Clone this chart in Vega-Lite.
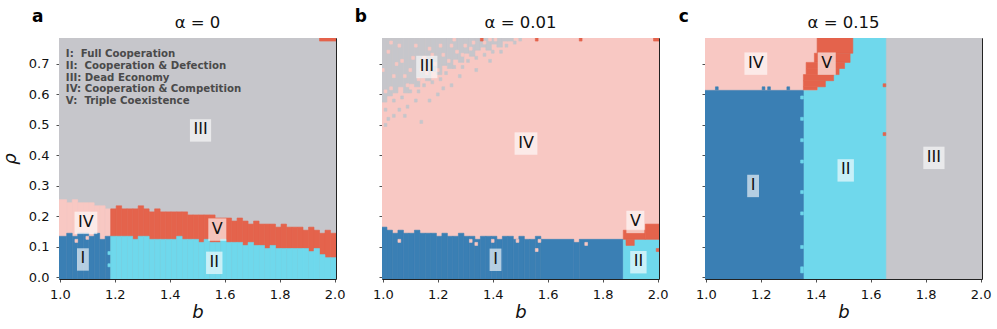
{
  "$schema": "https://vega.github.io/schema/vega-lite/v6.json",
  "padding": {"left": 0, "top": 7, "right": 5, "bottom": 5},
  "background": "white",
  "spacing": 46,
  "bounds": "flush",
  "config": {
    "view": {"stroke": "#222", "strokeWidth": 1},
    "axis": {"domain": false, "grid": false, "tickColor": "#222", "tickSize": 3, "tickWidth": 0.8, "labelFont": "DejaVu Sans", "labelFontSize": 13, "labelColor": "#111", "labelPadding": 7, "labelOverlap": false, "labelFlush": false, "titleFont": "DejaVu Sans", "titleFontSize": 18, "titleFontStyle": "italic", "titleFontWeight": "normal", "titleColor": "#111"},
    "axisX": {"labelPadding": 6.5, "titlePadding": 2},
    "axisY": {"titlePadding": 9}
  },
  "datasets": {
    "labels": [
      {"p": "a", "b": 1.095, "r": 0.179, "t": "IV"},
      {"p": "a", "b": 1.084, "r": 0.059, "t": "I"},
      {"p": "a", "b": 1.512, "r": 0.482, "t": "III"},
      {"p": "a", "b": 1.573, "r": 0.157, "t": "V"},
      {"p": "a", "b": 1.562, "r": 0.048, "t": "II"},
      {"p": "b", "b": 1.16, "r": 0.69, "t": "III"},
      {"p": "b", "b": 1.521, "r": 0.439, "t": "IV"},
      {"p": "b", "b": 1.41, "r": 0.058, "t": "I"},
      {"p": "b", "b": 1.919, "r": 0.182, "t": "V"},
      {"p": "b", "b": 1.93, "r": 0.05, "t": "II"},
      {"p": "c", "b": 1.182, "r": 0.701, "t": "IV"},
      {"p": "c", "b": 1.44, "r": 0.701, "t": "V"},
      {"p": "c", "b": 1.172, "r": 0.30, "t": "I"},
      {"p": "c", "b": 1.509, "r": 0.351, "t": "II"},
      {"p": "c", "b": 1.83, "r": 0.392, "t": "III"}
    ],
    "cells": [
      {"p":"a","x0":0.995,"x1":2.005,"y0":-0.005,"y1":0.785,"ph":"III"},
      {"p":"a","x0":1.945,"x1":2.005,"y0":0.775,"y1":0.785,"ph":"V"},
      {"p":"a","x0":0.995,"x1":1.025,"y0":-0.005,"y1":0.255,"ph":"IV"},
      {"p":"a","x0":1.025,"x1":1.045,"y0":-0.005,"y1":0.245,"ph":"IV"},
      {"p":"a","x0":1.045,"x1":1.065,"y0":-0.005,"y1":0.255,"ph":"IV"},
      {"p":"a","x0":1.065,"x1":1.085,"y0":-0.005,"y1":0.245,"ph":"IV"},
      {"p":"a","x0":1.085,"x1":1.105,"y0":-0.005,"y1":0.245,"ph":"IV"},
      {"p":"a","x0":1.105,"x1":1.125,"y0":-0.005,"y1":0.245,"ph":"IV"},
      {"p":"a","x0":1.125,"x1":1.145,"y0":-0.005,"y1":0.235,"ph":"IV"},
      {"p":"a","x0":1.145,"x1":1.165,"y0":-0.005,"y1":0.235,"ph":"IV"},
      {"p":"a","x0":1.165,"x1":1.185,"y0":-0.005,"y1":0.225,"ph":"IV"},
      {"p":"a","x0":1.185,"x1":1.205,"y0":-0.005,"y1":0.225,"ph":"V"},
      {"p":"a","x0":1.205,"x1":1.225,"y0":-0.005,"y1":0.235,"ph":"V"},
      {"p":"a","x0":1.225,"x1":1.245,"y0":-0.005,"y1":0.225,"ph":"V"},
      {"p":"a","x0":1.245,"x1":1.265,"y0":-0.005,"y1":0.225,"ph":"V"},
      {"p":"a","x0":1.265,"x1":1.285,"y0":-0.005,"y1":0.225,"ph":"V"},
      {"p":"a","x0":1.285,"x1":1.305,"y0":-0.005,"y1":0.235,"ph":"V"},
      {"p":"a","x0":1.305,"x1":1.325,"y0":-0.005,"y1":0.225,"ph":"V"},
      {"p":"a","x0":1.325,"x1":1.345,"y0":-0.005,"y1":0.215,"ph":"V"},
      {"p":"a","x0":1.345,"x1":1.365,"y0":-0.005,"y1":0.225,"ph":"V"},
      {"p":"a","x0":1.365,"x1":1.385,"y0":-0.005,"y1":0.215,"ph":"V"},
      {"p":"a","x0":1.385,"x1":1.405,"y0":-0.005,"y1":0.215,"ph":"V"},
      {"p":"a","x0":1.405,"x1":1.425,"y0":-0.005,"y1":0.215,"ph":"V"},
      {"p":"a","x0":1.425,"x1":1.445,"y0":-0.005,"y1":0.215,"ph":"V"},
      {"p":"a","x0":1.445,"x1":1.465,"y0":-0.005,"y1":0.215,"ph":"V"},
      {"p":"a","x0":1.465,"x1":1.485,"y0":-0.005,"y1":0.205,"ph":"V"},
      {"p":"a","x0":1.485,"x1":1.505,"y0":-0.005,"y1":0.205,"ph":"V"},
      {"p":"a","x0":1.505,"x1":1.525,"y0":-0.005,"y1":0.205,"ph":"V"},
      {"p":"a","x0":1.525,"x1":1.545,"y0":-0.005,"y1":0.205,"ph":"V"},
      {"p":"a","x0":1.545,"x1":1.565,"y0":-0.005,"y1":0.205,"ph":"V"},
      {"p":"a","x0":1.565,"x1":1.585,"y0":-0.005,"y1":0.195,"ph":"V"},
      {"p":"a","x0":1.585,"x1":1.605,"y0":-0.005,"y1":0.195,"ph":"V"},
      {"p":"a","x0":1.605,"x1":1.625,"y0":-0.005,"y1":0.195,"ph":"V"},
      {"p":"a","x0":1.625,"x1":1.645,"y0":-0.005,"y1":0.185,"ph":"V"},
      {"p":"a","x0":1.645,"x1":1.665,"y0":-0.005,"y1":0.195,"ph":"V"},
      {"p":"a","x0":1.665,"x1":1.685,"y0":-0.005,"y1":0.185,"ph":"V"},
      {"p":"a","x0":1.685,"x1":1.705,"y0":-0.005,"y1":0.175,"ph":"V"},
      {"p":"a","x0":1.705,"x1":1.725,"y0":-0.005,"y1":0.185,"ph":"V"},
      {"p":"a","x0":1.725,"x1":1.745,"y0":-0.005,"y1":0.175,"ph":"V"},
      {"p":"a","x0":1.745,"x1":1.765,"y0":-0.005,"y1":0.175,"ph":"V"},
      {"p":"a","x0":1.765,"x1":1.785,"y0":-0.005,"y1":0.175,"ph":"V"},
      {"p":"a","x0":1.785,"x1":1.805,"y0":-0.005,"y1":0.165,"ph":"V"},
      {"p":"a","x0":1.805,"x1":1.825,"y0":-0.005,"y1":0.175,"ph":"V"},
      {"p":"a","x0":1.825,"x1":1.845,"y0":-0.005,"y1":0.165,"ph":"V"},
      {"p":"a","x0":1.845,"x1":1.865,"y0":-0.005,"y1":0.165,"ph":"V"},
      {"p":"a","x0":1.865,"x1":1.885,"y0":-0.005,"y1":0.165,"ph":"V"},
      {"p":"a","x0":1.885,"x1":1.905,"y0":-0.005,"y1":0.155,"ph":"V"},
      {"p":"a","x0":1.905,"x1":1.925,"y0":-0.005,"y1":0.165,"ph":"V"},
      {"p":"a","x0":1.925,"x1":1.945,"y0":-0.005,"y1":0.155,"ph":"V"},
      {"p":"a","x0":1.945,"x1":1.965,"y0":-0.005,"y1":0.145,"ph":"V"},
      {"p":"a","x0":1.965,"x1":1.985,"y0":-0.005,"y1":0.155,"ph":"V"},
      {"p":"a","x0":1.985,"x1":2.005,"y0":-0.005,"y1":0.145,"ph":"V"},
      {"p":"a","x0":0.995,"x1":1.025,"y0":-0.005,"y1":0.135,"ph":"I"},
      {"p":"a","x0":1.025,"x1":1.045,"y0":-0.005,"y1":0.145,"ph":"I"},
      {"p":"a","x0":1.045,"x1":1.065,"y0":-0.005,"y1":0.135,"ph":"I"},
      {"p":"a","x0":1.065,"x1":1.085,"y0":-0.005,"y1":0.145,"ph":"I"},
      {"p":"a","x0":1.085,"x1":1.105,"y0":-0.005,"y1":0.145,"ph":"I"},
      {"p":"a","x0":1.105,"x1":1.125,"y0":-0.005,"y1":0.135,"ph":"I"},
      {"p":"a","x0":1.125,"x1":1.145,"y0":-0.005,"y1":0.145,"ph":"I"},
      {"p":"a","x0":1.145,"x1":1.165,"y0":-0.005,"y1":0.125,"ph":"I"},
      {"p":"a","x0":1.165,"x1":1.185,"y0":-0.005,"y1":0.135,"ph":"I"},
      {"p":"a","x0":1.185,"x1":1.205,"y0":-0.005,"y1":0.135,"ph":"II"},
      {"p":"a","x0":1.205,"x1":1.225,"y0":-0.005,"y1":0.135,"ph":"II"},
      {"p":"a","x0":1.225,"x1":1.245,"y0":-0.005,"y1":0.135,"ph":"II"},
      {"p":"a","x0":1.245,"x1":1.265,"y0":-0.005,"y1":0.135,"ph":"II"},
      {"p":"a","x0":1.265,"x1":1.285,"y0":-0.005,"y1":0.125,"ph":"II"},
      {"p":"a","x0":1.285,"x1":1.305,"y0":-0.005,"y1":0.135,"ph":"II"},
      {"p":"a","x0":1.305,"x1":1.325,"y0":-0.005,"y1":0.135,"ph":"II"},
      {"p":"a","x0":1.325,"x1":1.345,"y0":-0.005,"y1":0.125,"ph":"II"},
      {"p":"a","x0":1.345,"x1":1.365,"y0":-0.005,"y1":0.125,"ph":"II"},
      {"p":"a","x0":1.365,"x1":1.385,"y0":-0.005,"y1":0.125,"ph":"II"},
      {"p":"a","x0":1.385,"x1":1.405,"y0":-0.005,"y1":0.125,"ph":"II"},
      {"p":"a","x0":1.405,"x1":1.425,"y0":-0.005,"y1":0.125,"ph":"II"},
      {"p":"a","x0":1.425,"x1":1.445,"y0":-0.005,"y1":0.135,"ph":"II"},
      {"p":"a","x0":1.445,"x1":1.465,"y0":-0.005,"y1":0.125,"ph":"II"},
      {"p":"a","x0":1.465,"x1":1.485,"y0":-0.005,"y1":0.125,"ph":"II"},
      {"p":"a","x0":1.485,"x1":1.505,"y0":-0.005,"y1":0.125,"ph":"II"},
      {"p":"a","x0":1.505,"x1":1.525,"y0":-0.005,"y1":0.115,"ph":"II"},
      {"p":"a","x0":1.525,"x1":1.545,"y0":-0.005,"y1":0.125,"ph":"II"},
      {"p":"a","x0":1.545,"x1":1.565,"y0":-0.005,"y1":0.115,"ph":"II"},
      {"p":"a","x0":1.565,"x1":1.585,"y0":-0.005,"y1":0.115,"ph":"II"},
      {"p":"a","x0":1.585,"x1":1.605,"y0":-0.005,"y1":0.125,"ph":"II"},
      {"p":"a","x0":1.605,"x1":1.625,"y0":-0.005,"y1":0.115,"ph":"II"},
      {"p":"a","x0":1.625,"x1":1.645,"y0":-0.005,"y1":0.115,"ph":"II"},
      {"p":"a","x0":1.645,"x1":1.665,"y0":-0.005,"y1":0.115,"ph":"II"},
      {"p":"a","x0":1.665,"x1":1.685,"y0":-0.005,"y1":0.105,"ph":"II"},
      {"p":"a","x0":1.685,"x1":1.705,"y0":-0.005,"y1":0.115,"ph":"II"},
      {"p":"a","x0":1.705,"x1":1.725,"y0":-0.005,"y1":0.105,"ph":"II"},
      {"p":"a","x0":1.725,"x1":1.745,"y0":-0.005,"y1":0.105,"ph":"II"},
      {"p":"a","x0":1.745,"x1":1.765,"y0":-0.005,"y1":0.095,"ph":"II"},
      {"p":"a","x0":1.765,"x1":1.785,"y0":-0.005,"y1":0.105,"ph":"II"},
      {"p":"a","x0":1.785,"x1":1.805,"y0":-0.005,"y1":0.095,"ph":"II"},
      {"p":"a","x0":1.805,"x1":1.825,"y0":-0.005,"y1":0.095,"ph":"II"},
      {"p":"a","x0":1.825,"x1":1.845,"y0":-0.005,"y1":0.095,"ph":"II"},
      {"p":"a","x0":1.845,"x1":1.865,"y0":-0.005,"y1":0.095,"ph":"II"},
      {"p":"a","x0":1.865,"x1":1.885,"y0":-0.005,"y1":0.095,"ph":"II"},
      {"p":"a","x0":1.885,"x1":1.905,"y0":-0.005,"y1":0.095,"ph":"II"},
      {"p":"a","x0":1.905,"x1":1.925,"y0":-0.005,"y1":0.085,"ph":"II"},
      {"p":"a","x0":1.925,"x1":1.945,"y0":-0.005,"y1":0.095,"ph":"II"},
      {"p":"a","x0":1.945,"x1":1.965,"y0":-0.005,"y1":0.075,"ph":"II"},
      {"p":"a","x0":1.965,"x1":1.985,"y0":-0.005,"y1":0.065,"ph":"II"},
      {"p":"a","x0":1.985,"x1":2.005,"y0":-0.005,"y1":0.065,"ph":"II"},
      {"p":"a","x0":1.175,"x1":1.185,"y0":0.035,"y1":0.045,"ph":"II"},
      {"p":"a","x0":1.175,"x1":1.185,"y0":0.075,"y1":0.085,"ph":"II"},
      {"p":"a","x0":1.055,"x1":1.065,"y0":0.115,"y1":0.125,"ph":"IV"},
      {"p":"a","x0":1.095,"x1":1.105,"y0":0.125,"y1":0.135,"ph":"IV"},

      {"p":"b","x0":0.995,"x1":2.005,"y0":-0.005,"y1":0.785,"ph":"IV"},
      {"p":"b","x0":0.995,"x1":1.015,"y0":0.575,"y1":0.785,"ph":"III"},
      {"p":"b","x0":1.015,"x1":1.035,"y0":0.595,"y1":0.785,"ph":"III"},
      {"p":"b","x0":1.035,"x1":1.055,"y0":0.605,"y1":0.785,"ph":"III"},
      {"p":"b","x0":1.055,"x1":1.075,"y0":0.625,"y1":0.785,"ph":"III"},
      {"p":"b","x0":1.075,"x1":1.095,"y0":0.605,"y1":0.785,"ph":"III"},
      {"p":"b","x0":1.095,"x1":1.115,"y0":0.635,"y1":0.785,"ph":"III"},
      {"p":"b","x0":1.115,"x1":1.135,"y0":0.625,"y1":0.785,"ph":"III"},
      {"p":"b","x0":1.135,"x1":1.155,"y0":0.655,"y1":0.785,"ph":"III"},
      {"p":"b","x0":1.155,"x1":1.175,"y0":0.645,"y1":0.785,"ph":"III"},
      {"p":"b","x0":1.175,"x1":1.195,"y0":0.675,"y1":0.785,"ph":"III"},
      {"p":"b","x0":1.195,"x1":1.215,"y0":0.665,"y1":0.785,"ph":"III"},
      {"p":"b","x0":1.215,"x1":1.235,"y0":0.695,"y1":0.785,"ph":"III"},
      {"p":"b","x0":1.235,"x1":1.255,"y0":0.685,"y1":0.785,"ph":"III"},
      {"p":"b","x0":1.255,"x1":1.275,"y0":0.715,"y1":0.785,"ph":"III"},
      {"p":"b","x0":1.275,"x1":1.295,"y0":0.705,"y1":0.785,"ph":"III"},
      {"p":"b","x0":1.295,"x1":1.315,"y0":0.735,"y1":0.785,"ph":"III"},
      {"p":"b","x0":1.315,"x1":1.335,"y0":0.725,"y1":0.785,"ph":"III"},
      {"p":"b","x0":1.335,"x1":1.355,"y0":0.745,"y1":0.785,"ph":"III"},
      {"p":"b","x0":1.355,"x1":1.375,"y0":0.755,"y1":0.785,"ph":"III"},
      {"p":"b","x0":1.375,"x1":1.395,"y0":0.745,"y1":0.785,"ph":"III"},
      {"p":"b","x0":1.395,"x1":1.415,"y0":0.765,"y1":0.785,"ph":"III"},
      {"p":"b","x0":1.415,"x1":1.435,"y0":0.755,"y1":0.785,"ph":"III"},
      {"p":"b","x0":1.435,"x1":1.455,"y0":0.775,"y1":0.785,"ph":"III"},
      {"p":"b","x0":1.455,"x1":1.475,"y0":0.775,"y1":0.785,"ph":"III"},
      {"p":"b","x0":1.015,"x1":1.025,"y0":0.735,"y1":0.745,"ph":"IV"},
      {"p":"b","x0":1.045,"x1":1.055,"y0":0.695,"y1":0.705,"ph":"IV"},
      {"p":"b","x0":1.075,"x1":1.085,"y0":0.655,"y1":0.665,"ph":"IV"},
      {"p":"b","x0":1.025,"x1":1.035,"y0":0.615,"y1":0.625,"ph":"IV"},
      {"p":"b","x0":1.105,"x1":1.115,"y0":0.715,"y1":0.725,"ph":"IV"},
      {"p":"b","x0":1.135,"x1":1.145,"y0":0.675,"y1":0.685,"ph":"IV"},
      {"p":"b","x0":1.165,"x1":1.175,"y0":0.745,"y1":0.755,"ph":"IV"},
      {"p":"b","x0":1.185,"x1":1.195,"y0":0.695,"y1":0.705,"ph":"IV"},
      {"p":"b","x0":1.215,"x1":1.225,"y0":0.725,"y1":0.735,"ph":"IV"},
      {"p":"b","x0":1.245,"x1":1.255,"y0":0.755,"y1":0.765,"ph":"IV"},
      {"p":"b","x0":1.265,"x1":1.275,"y0":0.735,"y1":0.745,"ph":"IV"},
      {"p":"b","x0":1.295,"x1":1.305,"y0":0.755,"y1":0.765,"ph":"IV"},
      {"p":"b","x0":1.325,"x1":1.335,"y0":0.765,"y1":0.775,"ph":"IV"},
      {"p":"b","x0":1.365,"x1":1.375,"y0":0.765,"y1":0.775,"ph":"IV"},
      {"p":"b","x0":1.405,"x1":1.415,"y0":0.775,"y1":0.785,"ph":"IV"},
      {"p":"b","x0":1.055,"x1":1.065,"y0":0.755,"y1":0.765,"ph":"IV"},
      {"p":"b","x0":1.125,"x1":1.135,"y0":0.645,"y1":0.655,"ph":"IV"},
      {"p":"b","x0":1.195,"x1":1.205,"y0":0.675,"y1":0.685,"ph":"IV"},
      {"p":"b","x0":0.995,"x1":1.005,"y0":0.675,"y1":0.685,"ph":"IV"},
      {"p":"b","x0":1.085,"x1":1.095,"y0":0.625,"y1":0.635,"ph":"IV"},
      {"p":"b","x0":1.155,"x1":1.165,"y0":0.665,"y1":0.675,"ph":"IV"},
      {"p":"b","x0":1.235,"x1":1.245,"y0":0.705,"y1":0.715,"ph":"IV"},
      {"p":"b","x0":1.285,"x1":1.295,"y0":0.725,"y1":0.735,"ph":"IV"},
      {"p":"b","x0":1.385,"x1":1.395,"y0":0.775,"y1":0.785,"ph":"IV"},
      {"p":"b","x0":1.035,"x1":1.045,"y0":0.655,"y1":0.665,"ph":"IV"},
      {"p":"b","x0":1.005,"x1":1.015,"y0":0.605,"y1":0.615,"ph":"IV"},
      {"p":"b","x0":1.065,"x1":1.075,"y0":0.705,"y1":0.715,"ph":"IV"},
      {"p":"b","x0":1.095,"x1":1.105,"y0":0.675,"y1":0.685,"ph":"IV"},
      {"p":"b","x0":1.145,"x1":1.155,"y0":0.715,"y1":0.725,"ph":"IV"},
      {"p":"b","x0":1.205,"x1":1.215,"y0":0.755,"y1":0.765,"ph":"IV"},
      {"p":"b","x0":1.255,"x1":1.265,"y0":0.775,"y1":0.785,"ph":"IV"},
      {"p":"b","x0":1.315,"x1":1.325,"y0":0.745,"y1":0.755,"ph":"IV"},
      {"p":"b","x0":1.175,"x1":1.185,"y0":0.725,"y1":0.735,"ph":"IV"},
      {"p":"b","x0":1.025,"x1":1.035,"y0":0.765,"y1":0.775,"ph":"IV"},
      {"p":"b","x0":1.115,"x1":1.125,"y0":0.755,"y1":0.765,"ph":"IV"},
      {"p":"b","x0":1.005,"x1":1.015,"y0":0.545,"y1":0.555,"ph":"III"},
      {"p":"b","x0":1.035,"x1":1.045,"y0":0.575,"y1":0.585,"ph":"III"},
      {"p":"b","x0":1.015,"x1":1.025,"y0":0.515,"y1":0.525,"ph":"III"},
      {"p":"b","x0":1.065,"x1":1.075,"y0":0.585,"y1":0.595,"ph":"III"},
      {"p":"b","x0":1.095,"x1":1.105,"y0":0.605,"y1":0.615,"ph":"III"},
      {"p":"b","x0":1.125,"x1":1.135,"y0":0.605,"y1":0.615,"ph":"III"},
      {"p":"b","x0":1.145,"x1":1.155,"y0":0.625,"y1":0.635,"ph":"III"},
      {"p":"b","x0":1.175,"x1":1.185,"y0":0.635,"y1":0.645,"ph":"III"},
      {"p":"b","x0":1.205,"x1":1.215,"y0":0.645,"y1":0.655,"ph":"III"},
      {"p":"b","x0":1.225,"x1":1.235,"y0":0.665,"y1":0.675,"ph":"III"},
      {"p":"b","x0":1.255,"x1":1.265,"y0":0.685,"y1":0.695,"ph":"III"},
      {"p":"b","x0":1.285,"x1":1.295,"y0":0.685,"y1":0.695,"ph":"III"},
      {"p":"b","x0":1.305,"x1":1.315,"y0":0.705,"y1":0.715,"ph":"III"},
      {"p":"b","x0":1.335,"x1":1.345,"y0":0.715,"y1":0.725,"ph":"III"},
      {"p":"b","x0":1.365,"x1":1.375,"y0":0.725,"y1":0.735,"ph":"III"},
      {"p":"b","x0":1.395,"x1":1.405,"y0":0.735,"y1":0.745,"ph":"III"},
      {"p":"b","x0":1.425,"x1":1.435,"y0":0.735,"y1":0.745,"ph":"III"},
      {"p":"b","x0":1.445,"x1":1.455,"y0":0.755,"y1":0.765,"ph":"III"},
      {"p":"b","x0":1.475,"x1":1.485,"y0":0.765,"y1":0.775,"ph":"III"},
      {"p":"b","x0":1.495,"x1":1.505,"y0":0.775,"y1":0.785,"ph":"III"},
      {"p":"b","x0":1.035,"x1":1.045,"y0":0.525,"y1":0.535,"ph":"III"},
      {"p":"b","x0":1.135,"x1":1.145,"y0":0.505,"y1":0.515,"ph":"III"},
      {"p":"b","x0":1.055,"x1":1.065,"y0":0.545,"y1":0.555,"ph":"III"},
      {"p":"b","x0":1.195,"x1":1.205,"y0":0.595,"y1":0.605,"ph":"III"},
      {"p":"b","x0":1.085,"x1":1.095,"y0":0.555,"y1":0.565,"ph":"III"},
      {"p":"b","x0":1.245,"x1":1.255,"y0":0.625,"y1":0.635,"ph":"III"},
      {"p":"b","x0":1.335,"x1":1.345,"y0":0.675,"y1":0.685,"ph":"III"},
      {"p":"b","x0":1.165,"x1":1.175,"y0":0.575,"y1":0.585,"ph":"III"},
      {"p":"b","x0":1.005,"x1":1.015,"y0":0.495,"y1":0.505,"ph":"III"},
      {"p":"b","x0":1.115,"x1":1.125,"y0":0.575,"y1":0.585,"ph":"III"},
      {"p":"b","x0":1.075,"x1":1.085,"y0":0.525,"y1":0.535,"ph":"III"},
      {"p":"b","x0":1.275,"x1":1.285,"y0":0.655,"y1":0.665,"ph":"III"},
      {"p":"b","x0":1.385,"x1":1.395,"y0":0.705,"y1":0.715,"ph":"III"},
      {"p":"b","x0":1.215,"x1":1.225,"y0":0.615,"y1":0.625,"ph":"III"},
      {"p":"b","x0":1.355,"x1":1.365,"y0":0.775,"y1":0.785,"ph":"V"},
      {"p":"b","x0":1.555,"x1":1.565,"y0":0.775,"y1":0.785,"ph":"V"},
      {"p":"b","x0":1.715,"x1":1.725,"y0":0.775,"y1":0.785,"ph":"V"},
      {"p":"b","x0":1.985,"x1":2.005,"y0":0.775,"y1":0.785,"ph":"V"},
      {"p":"b","x0":0.995,"x1":1.015,"y0":-0.005,"y1":0.165,"ph":"I"},
      {"p":"b","x0":1.015,"x1":1.035,"y0":-0.005,"y1":0.155,"ph":"I"},
      {"p":"b","x0":1.035,"x1":1.055,"y0":-0.005,"y1":0.145,"ph":"I"},
      {"p":"b","x0":1.055,"x1":1.075,"y0":-0.005,"y1":0.155,"ph":"I"},
      {"p":"b","x0":1.075,"x1":1.095,"y0":-0.005,"y1":0.145,"ph":"I"},
      {"p":"b","x0":1.095,"x1":1.115,"y0":-0.005,"y1":0.145,"ph":"I"},
      {"p":"b","x0":1.115,"x1":1.135,"y0":-0.005,"y1":0.155,"ph":"I"},
      {"p":"b","x0":1.135,"x1":1.155,"y0":-0.005,"y1":0.145,"ph":"I"},
      {"p":"b","x0":1.155,"x1":1.175,"y0":-0.005,"y1":0.145,"ph":"I"},
      {"p":"b","x0":1.175,"x1":1.195,"y0":-0.005,"y1":0.145,"ph":"I"},
      {"p":"b","x0":1.195,"x1":1.215,"y0":-0.005,"y1":0.135,"ph":"I"},
      {"p":"b","x0":1.215,"x1":1.235,"y0":-0.005,"y1":0.145,"ph":"I"},
      {"p":"b","x0":1.235,"x1":1.255,"y0":-0.005,"y1":0.135,"ph":"I"},
      {"p":"b","x0":1.255,"x1":1.275,"y0":-0.005,"y1":0.135,"ph":"I"},
      {"p":"b","x0":1.275,"x1":1.295,"y0":-0.005,"y1":0.145,"ph":"I"},
      {"p":"b","x0":1.295,"x1":1.315,"y0":-0.005,"y1":0.135,"ph":"I"},
      {"p":"b","x0":1.315,"x1":1.335,"y0":-0.005,"y1":0.135,"ph":"I"},
      {"p":"b","x0":1.335,"x1":1.355,"y0":-0.005,"y1":0.125,"ph":"I"},
      {"p":"b","x0":1.355,"x1":1.375,"y0":-0.005,"y1":0.135,"ph":"I"},
      {"p":"b","x0":1.375,"x1":1.395,"y0":-0.005,"y1":0.135,"ph":"I"},
      {"p":"b","x0":1.395,"x1":1.415,"y0":-0.005,"y1":0.135,"ph":"I"},
      {"p":"b","x0":1.415,"x1":1.435,"y0":-0.005,"y1":0.125,"ph":"I"},
      {"p":"b","x0":1.435,"x1":1.455,"y0":-0.005,"y1":0.135,"ph":"I"},
      {"p":"b","x0":1.455,"x1":1.475,"y0":-0.005,"y1":0.135,"ph":"I"},
      {"p":"b","x0":1.475,"x1":1.495,"y0":-0.005,"y1":0.125,"ph":"I"},
      {"p":"b","x0":1.495,"x1":1.515,"y0":-0.005,"y1":0.135,"ph":"I"},
      {"p":"b","x0":1.515,"x1":1.535,"y0":-0.005,"y1":0.125,"ph":"I"},
      {"p":"b","x0":1.535,"x1":1.555,"y0":-0.005,"y1":0.125,"ph":"I"},
      {"p":"b","x0":1.555,"x1":1.575,"y0":-0.005,"y1":0.135,"ph":"I"},
      {"p":"b","x0":1.575,"x1":1.695,"y0":-0.005,"y1":0.125,"ph":"I"},
      {"p":"b","x0":1.695,"x1":1.715,"y0":-0.005,"y1":0.115,"ph":"I"},
      {"p":"b","x0":1.715,"x1":1.875,"y0":-0.005,"y1":0.125,"ph":"I"},
      {"p":"b","x0":1.315,"x1":1.325,"y0":0.115,"y1":0.125,"ph":"IV"},
      {"p":"b","x0":1.335,"x1":1.345,"y0":0.105,"y1":0.115,"ph":"IV"},
      {"p":"b","x0":1.395,"x1":1.405,"y0":0.115,"y1":0.125,"ph":"IV"},
      {"p":"b","x0":1.485,"x1":1.495,"y0":0.115,"y1":0.125,"ph":"IV"},
      {"p":"b","x0":1.565,"x1":1.575,"y0":0.115,"y1":0.125,"ph":"IV"},
      {"p":"b","x0":1.735,"x1":1.745,"y0":0.105,"y1":0.115,"ph":"IV"},
      {"p":"b","x0":1.055,"x1":1.065,"y0":0.115,"y1":0.125,"ph":"IV"},
      {"p":"b","x0":1.555,"x1":1.565,"y0":0.085,"y1":0.095,"ph":"IV"},
      {"p":"b","x0":1.875,"x1":2.005,"y0":-0.005,"y1":0.125,"ph":"II"},
      {"p":"b","x0":1.875,"x1":1.955,"y0":0.125,"y1":0.155,"ph":"V"},
      {"p":"b","x0":1.955,"x1":2.005,"y0":0.125,"y1":0.175,"ph":"V"},
      {"p":"b","x0":1.885,"x1":1.915,"y0":0.105,"y1":0.125,"ph":"V"},
      {"p":"b","x0":1.995,"x1":2.005,"y0":0.085,"y1":0.095,"ph":"V"},

      {"p":"c","x0":0.995,"x1":2.005,"y0":-0.005,"y1":0.785,"ph":"III"},
      {"p":"c","x0":1.355,"x1":1.655,"y0":-0.005,"y1":0.785,"ph":"II"},
      {"p":"c","x0":0.995,"x1":1.355,"y0":-0.005,"y1":0.615,"ph":"I"},
      {"p":"c","x0":0.995,"x1":1.405,"y0":0.615,"y1":0.785,"ph":"IV"},
      {"p":"c","x0":1.405,"x1":1.535,"y0":0.735,"y1":0.785,"ph":"V"},
      {"p":"c","x0":1.395,"x1":1.525,"y0":0.705,"y1":0.735,"ph":"V"},
      {"p":"c","x0":1.365,"x1":1.505,"y0":0.685,"y1":0.705,"ph":"V"},
      {"p":"c","x0":1.365,"x1":1.485,"y0":0.665,"y1":0.685,"ph":"V"},
      {"p":"c","x0":1.355,"x1":1.465,"y0":0.645,"y1":0.665,"ph":"V"},
      {"p":"c","x0":1.355,"x1":1.435,"y0":0.625,"y1":0.645,"ph":"V"},
      {"p":"c","x0":1.355,"x1":1.405,"y0":0.615,"y1":0.625,"ph":"V"},
      {"p":"c","x0":1.035,"x1":1.045,"y0":0.615,"y1":0.625,"ph":"I"},
      {"p":"c","x0":1.205,"x1":1.215,"y0":0.615,"y1":0.625,"ph":"I"},
      {"p":"c","x0":1.225,"x1":1.235,"y0":0.615,"y1":0.625,"ph":"I"},
      {"p":"c","x0":1.295,"x1":1.305,"y0":0.615,"y1":0.625,"ph":"I"},
      {"p":"c","x0":1.345,"x1":1.355,"y0":0.585,"y1":0.595,"ph":"II"},
      {"p":"c","x0":1.345,"x1":1.355,"y0":0.515,"y1":0.525,"ph":"II"},
      {"p":"c","x0":1.345,"x1":1.355,"y0":0.445,"y1":0.455,"ph":"II"},
      {"p":"c","x0":1.345,"x1":1.355,"y0":0.375,"y1":0.385,"ph":"II"},
      {"p":"c","x0":1.345,"x1":1.355,"y0":0.275,"y1":0.285,"ph":"II"},
      {"p":"c","x0":1.345,"x1":1.355,"y0":0.205,"y1":0.215,"ph":"II"},
      {"p":"c","x0":1.345,"x1":1.355,"y0":0.095,"y1":0.105,"ph":"II"},
      {"p":"c","x0":1.345,"x1":1.355,"y0":0.015,"y1":0.035,"ph":"II"},
      {"p":"c","x0":1.645,"x1":1.655,"y0":0.625,"y1":0.635,"ph":"V"},
      {"p":"c","x0":1.645,"x1":1.655,"y0":0.465,"y1":0.475,"ph":"V"}
    ]
  },
  "hconcat": [
    {
      "width": 277, "height": 241,
      "layer": [
        {
          "data": {"name": "cells"},
          "transform": [{"filter": "datum.p === 'a'"}],
          "mark": {"type": "rect", "clip": true, "strokeWidth": 0.6},
          "encoding": {
            "x": {"field": "x0", "type": "quantitative", "scale": {"domain": [0.997, 2.005], "nice": false, "zero": false}, "axis": {"values": [1, 1.2, 1.4, 1.6, 1.8, 2], "tickCount": 10, "format": ".1f", "title": "b", "labelOverlap": false, "labelFlush": false}},
            "x2": {"field": "x1"},
            "y": {"field": "y0", "type": "quantitative", "scale": {"domain": [-0.005, 0.785], "nice": false, "zero": false}, "axis": {"values": [0, 0.1, 0.2, 0.3, 0.4, 0.5, 0.6, 0.7], "tickCount": 10, "format": ".1f", "title": "ρ", "labelOverlap": false, "labelFlush": false}},
            "y2": {"field": "y1"},
            "color": {"field": "ph", "type": "nominal", "scale": {"domain": ["I", "II", "III", "IV", "V"], "range": ["#3a7fb4", "#6fd8ec", "#c6c6cb", "#f8c8c3", "#e4634c"]}, "legend": null},
            "stroke": {"field": "ph", "type": "nominal", "scale": {"domain": ["I", "II", "III", "IV", "V"], "range": ["#3a7fb4", "#6fd8ec", "#c6c6cb", "#f8c8c3", "#e4634c"]}, "legend": null}
          }
        },
        {
          "data": {"name": "labels"},
          "transform": [{"filter": "datum.p === 'a'"}],
          "mark": {"type": "point", "filled": true, "fill": "white", "opacity": 0.62, "size": 4, "strokeWidth": 0},
          "encoding": {
            "x": {"field": "b", "type": "quantitative"},
            "y": {"field": "r", "type": "quantitative"},
            "shape": {"field": "t", "type": "nominal", "scale": {"domain": ["I", "II", "III", "IV", "V"], "range": ["M-5.9,-11.2H5.9V11.2H-5.9Z", "M-8.2,-11.2H8.2V11.2H-8.2Z", "M-10.6,-11.2H10.6V11.2H-10.6Z", "M-11.4,-11.2H11.4V11.2H-11.4Z", "M-9,-11.2H9V11.2H-9Z"]}, "legend": null}
          }
        },
        {
          "data": {"name": "labels"},
          "transform": [{"filter": "datum.p === 'a'"}],
          "mark": {"type": "text", "font": "DejaVu Sans", "fontSize": 16, "color": "#111", "baseline": "middle", "dy": -1},
          "encoding": {
            "x": {"field": "b", "type": "quantitative"},
            "y": {"field": "r", "type": "quantitative"},
            "text": {"field": "t"}
          }
        },
        {
          "data": {"values": [{}]},
          "mark": {"type": "text", "font": "DejaVu Sans", "fontSize": 10.2, "fontWeight": "bold", "color": "#4a4a4a", "align": "left", "baseline": "alphabetic", "lineHeight": 11.9},
          "encoding": {
            "x": {"datum": 1.022},
            "y": {"datum": 0.7235},
            "text": {"value": ["I:\u00a0 Full Cooperation", "II:\u00a0 Cooperation & Defection", "III: Dead Economy", "IV: Cooperation & Competition", "V:\u00a0 Triple Coexistence"]}
          }
        },
        {
          "data": {"values": [{}]},
          "mark": {"type": "text", "font": "DejaVu Sans", "fontSize": 16.5, "color": "#111", "align": "center", "baseline": "alphabetic", "clip": false},
          "encoding": {"x": {"datum": 1.501}, "y": {"datum": 0.819}, "text": {"value": "α = 0"}}
        },
        {
          "data": {"values": [{}]},
          "mark": {"type": "text", "font": "DejaVu Sans", "fontSize": 17, "fontWeight": "bold", "color": "black", "align": "center", "baseline": "alphabetic", "clip": false},
          "encoding": {"x": {"datum": 0.92}, "y": {"datum": 0.836}, "text": {"value": "a"}}
        }
      ]
    },
    {
      "width": 277, "height": 241,
      "layer": [
        {
          "data": {"name": "cells"},
          "transform": [{"filter": "datum.p === 'b'"}],
          "mark": {"type": "rect", "clip": true, "strokeWidth": 0.6},
          "encoding": {
            "x": {"field": "x0", "type": "quantitative", "scale": {"domain": [0.997, 2.005], "nice": false, "zero": false}, "axis": {"values": [1, 1.2, 1.4, 1.6, 1.8, 2], "tickCount": 10, "format": ".1f", "title": "b", "labelOverlap": false, "labelFlush": false}},
            "x2": {"field": "x1"},
            "y": {"field": "y0", "type": "quantitative", "scale": {"domain": [-0.005, 0.785], "nice": false, "zero": false}, "axis": {"values": [0, 0.1, 0.2, 0.3, 0.4, 0.5, 0.6, 0.7], "tickCount": 10, "labels": false, "title": null}},
            "y2": {"field": "y1"},
            "color": {"field": "ph", "type": "nominal", "scale": {"domain": ["I", "II", "III", "IV", "V"], "range": ["#3a7fb4", "#6fd8ec", "#c6c6cb", "#f8c8c3", "#e4634c"]}, "legend": null},
            "stroke": {"field": "ph", "type": "nominal", "scale": {"domain": ["I", "II", "III", "IV", "V"], "range": ["#3a7fb4", "#6fd8ec", "#c6c6cb", "#f8c8c3", "#e4634c"]}, "legend": null}
          }
        },
        {
          "data": {"name": "labels"},
          "transform": [{"filter": "datum.p === 'b'"}],
          "mark": {"type": "point", "filled": true, "fill": "white", "opacity": 0.62, "size": 4, "strokeWidth": 0},
          "encoding": {
            "x": {"field": "b", "type": "quantitative"},
            "y": {"field": "r", "type": "quantitative"},
            "shape": {"field": "t", "type": "nominal", "scale": {"domain": ["I", "II", "III", "IV", "V"], "range": ["M-5.9,-11.2H5.9V11.2H-5.9Z", "M-8.2,-11.2H8.2V11.2H-8.2Z", "M-10.6,-11.2H10.6V11.2H-10.6Z", "M-11.4,-11.2H11.4V11.2H-11.4Z", "M-9,-11.2H9V11.2H-9Z"]}, "legend": null}
          }
        },
        {
          "data": {"name": "labels"},
          "transform": [{"filter": "datum.p === 'b'"}],
          "mark": {"type": "text", "font": "DejaVu Sans", "fontSize": 16, "color": "#111", "baseline": "middle", "dy": -1},
          "encoding": {
            "x": {"field": "b", "type": "quantitative"},
            "y": {"field": "r", "type": "quantitative"},
            "text": {"field": "t"}
          }
        },
        {
          "data": {"values": [{}]},
          "mark": {"type": "text", "font": "DejaVu Sans", "fontSize": 16.5, "color": "#111", "align": "center", "baseline": "alphabetic", "clip": false},
          "encoding": {"x": {"datum": 1.501}, "y": {"datum": 0.819}, "text": {"value": "α = 0.01"}}
        },
        {
          "data": {"values": [{}]},
          "mark": {"type": "text", "font": "DejaVu Sans", "fontSize": 17, "fontWeight": "bold", "color": "black", "align": "center", "baseline": "alphabetic", "clip": false},
          "encoding": {"x": {"datum": 0.92}, "y": {"datum": 0.836}, "text": {"value": "b"}}
        }
      ]
    },
    {
      "width": 277, "height": 241,
      "layer": [
        {
          "data": {"name": "cells"},
          "transform": [{"filter": "datum.p === 'c'"}],
          "mark": {"type": "rect", "clip": true, "strokeWidth": 0.6},
          "encoding": {
            "x": {"field": "x0", "type": "quantitative", "scale": {"domain": [0.997, 2.005], "nice": false, "zero": false}, "axis": {"values": [1, 1.2, 1.4, 1.6, 1.8, 2], "tickCount": 10, "format": ".1f", "title": "b", "labelOverlap": false, "labelFlush": false}},
            "x2": {"field": "x1"},
            "y": {"field": "y0", "type": "quantitative", "scale": {"domain": [-0.005, 0.785], "nice": false, "zero": false}, "axis": {"values": [0, 0.1, 0.2, 0.3, 0.4, 0.5, 0.6, 0.7], "tickCount": 10, "labels": false, "title": null}},
            "y2": {"field": "y1"},
            "color": {"field": "ph", "type": "nominal", "scale": {"domain": ["I", "II", "III", "IV", "V"], "range": ["#3a7fb4", "#6fd8ec", "#c6c6cb", "#f8c8c3", "#e4634c"]}, "legend": null},
            "stroke": {"field": "ph", "type": "nominal", "scale": {"domain": ["I", "II", "III", "IV", "V"], "range": ["#3a7fb4", "#6fd8ec", "#c6c6cb", "#f8c8c3", "#e4634c"]}, "legend": null}
          }
        },
        {
          "data": {"name": "labels"},
          "transform": [{"filter": "datum.p === 'c'"}],
          "mark": {"type": "point", "filled": true, "fill": "white", "opacity": 0.62, "size": 4, "strokeWidth": 0},
          "encoding": {
            "x": {"field": "b", "type": "quantitative"},
            "y": {"field": "r", "type": "quantitative"},
            "shape": {"field": "t", "type": "nominal", "scale": {"domain": ["I", "II", "III", "IV", "V"], "range": ["M-5.9,-11.2H5.9V11.2H-5.9Z", "M-8.2,-11.2H8.2V11.2H-8.2Z", "M-10.6,-11.2H10.6V11.2H-10.6Z", "M-11.4,-11.2H11.4V11.2H-11.4Z", "M-9,-11.2H9V11.2H-9Z"]}, "legend": null}
          }
        },
        {
          "data": {"name": "labels"},
          "transform": [{"filter": "datum.p === 'c'"}],
          "mark": {"type": "text", "font": "DejaVu Sans", "fontSize": 16, "color": "#111", "baseline": "middle", "dy": -1},
          "encoding": {
            "x": {"field": "b", "type": "quantitative"},
            "y": {"field": "r", "type": "quantitative"},
            "text": {"field": "t"}
          }
        },
        {
          "data": {"values": [{}]},
          "mark": {"type": "text", "font": "DejaVu Sans", "fontSize": 16.5, "color": "#111", "align": "center", "baseline": "alphabetic", "clip": false},
          "encoding": {"x": {"datum": 1.501}, "y": {"datum": 0.819}, "text": {"value": "α = 0.15"}}
        },
        {
          "data": {"values": [{}]},
          "mark": {"type": "text", "font": "DejaVu Sans", "fontSize": 17, "fontWeight": "bold", "color": "black", "align": "center", "baseline": "alphabetic", "clip": false},
          "encoding": {"x": {"datum": 0.92}, "y": {"datum": 0.836}, "text": {"value": "c"}}
        }
      ]
    }
  ]
}
